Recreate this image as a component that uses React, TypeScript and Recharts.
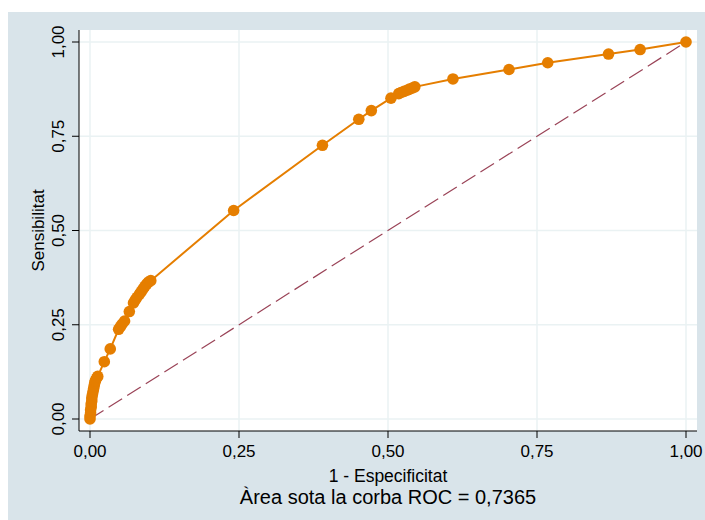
import { LineChart, Line, XAxis, YAxis, CartesianGrid } from "recharts"

// ROC curve points (1 - specificity, sensitivity)
const fpr = [
  0, 0.0, 0.001, 0.001, 0.002, 0.002, 0.003, 0.003, 0.004, 0.005, 0.006, 0.007,
  0.008, 0.009, 0.011, 0.013, 0.024, 0.034, 0.048, 0.051, 0.054, 0.058, 0.066,
  0.073, 0.076, 0.079, 0.083, 0.086, 0.089, 0.092, 0.095, 0.098, 0.102, 0.241,
  0.39, 0.451, 0.472, 0.505, 0.518, 0.522, 0.527, 0.532, 0.536, 0.541, 0.545,
  0.609, 0.703, 0.768, 0.87, 0.923, 1,
]
const tpr = [
  0, 0.008, 0.016, 0.024, 0.032, 0.04, 0.048, 0.056, 0.064, 0.072, 0.08, 0.088,
  0.096, 0.102, 0.108, 0.113, 0.152, 0.186, 0.238, 0.245, 0.252, 0.26, 0.285,
  0.308, 0.316, 0.323, 0.331, 0.338, 0.345, 0.352, 0.358, 0.363, 0.367, 0.553,
  0.726, 0.795, 0.818, 0.851, 0.863, 0.866, 0.869, 0.872, 0.875, 0.878, 0.881,
  0.902, 0.927, 0.945, 0.968, 0.98, 1,
]

// reference line (chance)
const diagX = [0, 1]
const diagY = [0, 1]

const axisTicks = [0, 0.25, 0.5, 0.75, 1]
const xTitle = "1 - Especificitat"
const yTitle = "Sensibilitat"
const caption = "Àrea sota la corba ROC = 0,7365"

const rocData = fpr.map((x, i) => ({ x, roc: tpr[i] }))
const diagData = diagX.map((x, i) => ({ x, diag: diagY[i] }))

const FONT = "'Liberation Sans', Arial, sans-serif"
const ORANGE = "#E57E00"
const MAROON = "#9A4357"
const GRID = "#EAF2F3"
const BG = "#D9E4EA"

const fmt = (v: number) => v.toFixed(2).replace(".", ",")

function YTick(props: any) {
  const { x, y, payload } = props
  return (
    <text
      transform={`translate(${x},${y}) rotate(-90)`}
      textAnchor="middle"
      fontFamily={FONT}
      fontSize={17}
      fill="#000"
    >
      {fmt(payload.value)}
    </text>
  )
}

function YTitle(props: any) {
  const vb = props.viewBox || { x: 0, y: 18, width: 71, height: 401 }
  const cy = vb.y + vb.height / 2
  return (
    <text
      transform={`translate(${vb.x + 36},${cy}) rotate(-90)`}
      textAnchor="middle"
      fontFamily={FONT}
      fontSize={17}
      fill="#000"
    >
      {yTitle}
    </text>
  )
}

function XTitle(props: any) {
  const vb = props.viewBox || { x: 71, y: 419, width: 618, height: 89 }
  const cx = vb.x + vb.width / 2
  return (
    <g fontFamily={FONT} fill="#000" textAnchor="middle">
      <text x={cx} y={vb.y + 51} fontSize={17.5}>
        {xTitle}
      </text>
      <text x={cx} y={vb.y + 73} fontSize={20}>
        {caption}
      </text>
    </g>
  )
}

export default function App() {
  return (
    <div
      style={{
        position: "absolute",
        left: 8,
        top: 12,
        width: 697,
        height: 508,
        background: BG,
      }}
    >
      <LineChart
        width={697}
        height={508}
        margin={{ top: 18, right: 8, left: 0, bottom: 0 }}
      >
        <CartesianGrid
          fill="#fff"
          stroke={GRID}
          strokeWidth={1.5}
          horizontalValues={axisTicks}
          verticalValues={axisTicks}
        />
        <XAxis
          dataKey="x"
          type="number"
          domain={[0, 1]}
          ticks={axisTicks}
          tickFormatter={fmt}
          padding={{ left: 11, right: 11 }}
          height={89}
          tickSize={7}
          tickMargin={7}
          stroke="#000"
          tick={{ fontSize: 17, fill: "#000", fontFamily: FONT }}
          label={<XTitle />}
        />
        <YAxis
          type="number"
          domain={[0, 1]}
          ticks={axisTicks}
          padding={{ top: 12, bottom: 12 }}
          width={71}
          tickSize={7}
          tickMargin={8}
          stroke="#000"
          tick={<YTick />}
          label={<YTitle />}
        />
        <Line
          data={rocData}
          dataKey="roc"
          type="linear"
          stroke={ORANGE}
          strokeWidth={2}
          dot={{ r: 5.8, fill: ORANGE, stroke: "none" }}
          activeDot={false}
          isAnimationActive={false}
        />
        <Line
          data={diagData}
          dataKey="diag"
          type="linear"
          stroke={MAROON}
          strokeWidth={1.2}
          strokeDasharray="16 6"
          dot={false}
          activeDot={false}
          isAnimationActive={false}
        />
      </LineChart>
    </div>
  )
}
